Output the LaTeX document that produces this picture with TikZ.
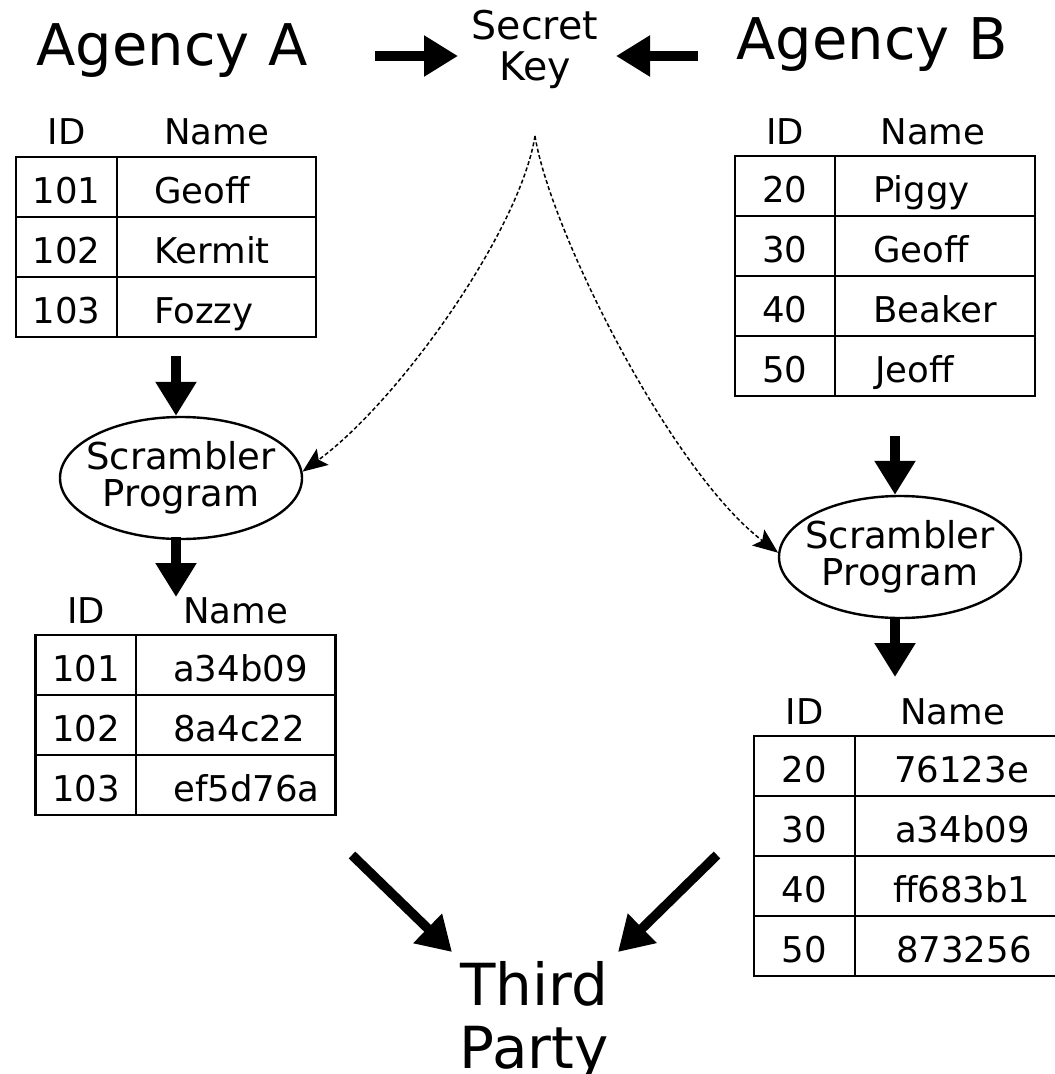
\documentclass[tikz,border=0pt]{standalone}
\usepackage{fontspec}
\setmainfont{DejaVu Sans}
\usetikzlibrary{arrows.meta,shapes.geometric}
\begin{document}
\begin{tikzpicture}[x=1pt,y=-1pt,
  big/.style={line width=9.5pt,-{Triangle[length=34pt,width=39pt]}},
  keyarrow/.style={line width=1.5pt,dash pattern=on 4pt off 2.5pt,-{Stealth[length=25pt,width=20pt,inset=5pt]}},
  cell/.style={anchor=base,inner sep=0pt,font=\fontsize{35.5}{40}\selectfont},
  namecell/.style={anchor=base west,inner sep=0pt,font=\fontsize{35.5}{40}\selectfont},
  grid/.style={line width=2.4pt},
  tbl/.style={draw,line width=2.4pt,inner sep=0pt,minimum width=300pt},
  scr/.style={ellipse,draw,line width=2.4pt,minimum width=242pt,minimum height=122pt,inner sep=0pt},
  scrtext/.style={align=center,inner sep=0pt,font=\fontsize{37}{37}\selectfont},
  title/.style={anchor=base,inner sep=0pt,font=\fontsize{57.5}{60}\selectfont}]
\fill[white] (0,0) rectangle (1055,1074);
\useasboundingbox (0,0) rectangle (1055,1074);

% titles
\node[title] (agA) at (172,65) {Agency A};
\node[title] (agB) at (872,59) {Agency B};
\node[align=center,inner sep=0pt,font=\fontsize{39.5}{41}\selectfont] (sk) at (535,49.5) {Secret\\Key};
\coordinate (kl) at (375,56); \coordinate (kl2) at (458,56);
\coordinate (kr) at (698,56); \coordinate (kr2) at (616,56);
\draw[big] (kl) -- (kl2);
\draw[big] (kr) -- (kr2);

% Table A1
\node[tbl,minimum height=180pt] (tA1) at (166,247) {};
\draw[grid] (117,157) -- (117,337);
\draw[grid] (16,217) -- (316,217);
\draw[grid] (16,277) -- (316,277);
\node[cell] (a1h1) at (66.5,144) {ID};
\node[cell] (a1h2) at (216.5,144) {Name};
\node[cell] (a1i1) at (66.5,203) {101};
\node[cell] (a1i2) at (66.5,263) {102};
\node[cell] (a1i3) at (66.5,323) {103};
\node[namecell] (a1n1) at (154,203) {Geoff};
\node[namecell] (a1n2) at (154,263) {Kermit};
\node[namecell] (a1n3) at (154,323) {Fozzy};

% Scrambler A
\node[scr] (ellA) at (181,478) {};
\node[scrtext] (ellAt) at (ellA.center) {Scrambler\\Program};
\coordinate (a1o) at (176,356);
\draw[big] (a1o) -- (a1o |- ellA.north);
\coordinate (a2o) at (176,537); \coordinate (a2t) at (176,597);
\draw[big] (a2o) -- (a2t);

% Table A2
\node[tbl,minimum height=180pt] (tA2) at (185.5,725) {};
\draw[grid] (136,635) -- (136,815);
\draw[grid] (36,695) -- (335,695);
\draw[grid] (36,755) -- (335,755);
\node[cell] (a2h1) at (86,623) {ID};
\node[cell] (a2h2) at (235.5,623) {Name};
\node[cell] (a2i1) at (86,681) {101};
\node[cell] (a2i2) at (86,741) {102};
\node[cell] (a2i3) at (86,801) {103};
\node[namecell] (a2n1) at (173,681) {a34b09};
\node[namecell] (a2n2) at (173,741) {8a4c22};
\node[namecell] (a2n3) at (173,801) {ef5d76a};

% Table B1
\node[tbl,minimum height=240pt] (tB1) at (885,276) {};
\draw[grid] (835,156) -- (835,396);
\draw[grid] (735,216) -- (1035,216);
\draw[grid] (735,276) -- (1035,276);
\draw[grid] (735,336) -- (1035,336);
\node[cell] (b1h1) at (785,144) {ID};
\node[cell] (b1h2) at (933,144) {Name};
\node[cell] (b1i1) at (785,202) {20};
\node[cell] (b1i2) at (785,262) {30};
\node[cell] (b1i3) at (785,322) {40};
\node[cell] (b1i4) at (785,382) {50};
\node[namecell] (b1n1) at (873,202) {Piggy};
\node[namecell] (b1n2) at (873,262) {Geoff};
\node[namecell] (b1n3) at (873,322) {Beaker};
\node[namecell] (b1n4) at (875,382) {Jeoff};

% Scrambler B
\node[scr] (ellB) at (900,557) {};
\node[scrtext] (ellBt) at (ellB.center) {Scrambler\\Program};
\coordinate (b1o) at (895,436);
\draw[big] (b1o) -- (b1o |- ellB.north);
\coordinate (b2o) at (895,617); \coordinate (b2t) at (895,677);
\draw[big] (b2o) -- (b2t);

% Table B2
\node[tbl,minimum width=302pt,minimum height=240pt] (tB2) at (905,856) {};
\draw[grid] (855,736) -- (855,976);
\draw[grid] (754,796) -- (1056,796);
\draw[grid] (754,856) -- (1056,856);
\draw[grid] (754,916) -- (1056,916);
\node[cell] (b2h1) at (804.5,724) {ID};
\node[cell] (b2h2) at (952.5,724) {Name};
\node[cell] (b2i1) at (804.5,782) {20};
\node[cell] (b2i2) at (804.5,842) {30};
\node[cell] (b2i3) at (804.5,902) {40};
\node[cell] (b2i4) at (804.5,962) {50};
\node[namecell] (b2n1) at (894,782) {76123e};
\node[namecell] (b2n2) at (895,842) {a34b09};
\node[namecell] (b2n3) at (893,902) {ff683b1};
\node[namecell] (b2n4) at (896,962) {873256};

% Secret key dashed arrows
\coordinate (apex) at (535,136);
\draw[keyarrow] (apex) .. controls (520,230) and (400,400) .. (ellA.3);
\draw[keyarrow] (apex) .. controls (550,230) and (670,470) .. (ellB.178);

% Third party
\node[align=center,inner sep=0pt,font=\fontsize{58}{63}\selectfont] (third) at (534,1021) {Third\\Party};
\coordinate (tl) at (352,855); \coordinate (tl2) at (452,952);
\coordinate (tr) at (717,855); \coordinate (tr2) at (618,952);
\draw[big] (tl) -- (tl2);
\draw[big] (tr) -- (tr2);
\end{tikzpicture}
\end{document}
